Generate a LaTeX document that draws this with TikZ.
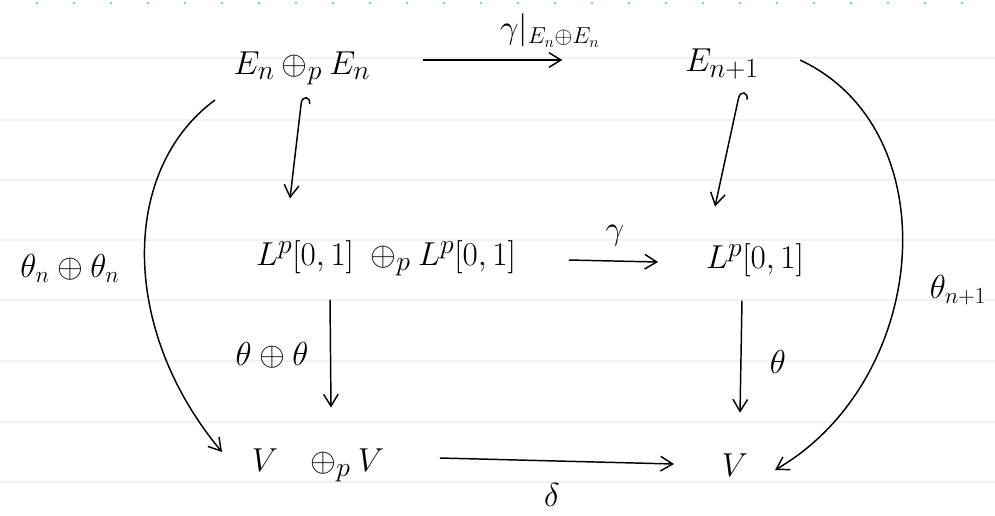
\documentclass[tikz,border=0pt]{standalone}
\usetikzlibrary{arrows.meta,calc}
\begin{document}
\begin{tikzpicture}[x=0.75pt,y=-0.75pt,
  obj/.style={inner sep=2pt,font=\fontsize{31}{35}\selectfont},
  lab/.style={inner sep=2pt,font=\fontsize{26}{30}\selectfont},
  arr/.style={-{Straight Barb[length=9pt,width=11pt]},line width=1.1pt},
  harr/.style={{Hooks[right,length=5pt,width=14pt]}-{Straight Barb[length=9pt,width=11pt]},line width=1.1pt},
  rule/.style={draw=black!5,line width=0.8pt}]
\useasboundingbox (0,0) rectangle (995,515);
\fill[white] (0,0) rectangle (995,515);
\foreach \yy in {58,120,180,240,300,361,422,482} \draw[rule] (0,\yy) -- (995,\yy);
\foreach \xx in {37,74,...,995} \fill[cyan!60] (\xx,3) circle (1.4);
\node[obj] (A) at (302,68) {$E_n\oplus_p E_n$};
\node[obj] (B) at (722,64) {$E_{n+1}$};
\node[obj] (C) at (386,258) {$L^p[0,1]\;\oplus_p L^p[0,1]$};
\node[obj] (D) at (755,260) {$L^p[0,1]$};
\node[obj] (E) at (318,465) {$V\ \ \oplus_p V$};
\node[obj] (F) at (735,465) {$V$};
\coordinate (a1) at (215,100);
\coordinate (a2) at (222,452);
\coordinate (b1) at (800,60);
\coordinate (b2) at (775,470);
\draw[arr] ($(A.east)+(50,-8)$) -- ($(B.west)+(-120,-4)$);
\node[lab,anchor=south] (g1) at (550,50) {$\gamma|_{E_n\oplus E_n}$};
\draw[harr] ($(A.south)+(0,9)$) -- ($(C.north)+(-96,-39)$);
\draw[harr] ($(B.south)+(18,9)$) -- ($(D.north)+(-40,-34)$);
\draw[arr] ($(C.east)+(50,2)$) -- ($(D.west)+(-45,2)$);
\node[lab] (g2) at (615,236) {$\gamma$};
\draw[arr] ($(C.south)+(-56,21)$) -- ($(E.north)+(13,-38)$);
\node[lab] (tt) at (272,355) {$\theta\oplus\theta$};
\draw[arr] ($(D.south)+(-13,21)$) -- ($(F.north)+(5,-38)$);
\node[lab] (t) at (778,362) {$\theta$};
\draw[arr] ($(E.east)+(53,-7)$) -- ($(F.west)+(-45,-1)$);
\node[lab] (d) at (552,495) {$\delta$};
\draw[arr] (a1) .. controls (120,170) and (120,330) .. (a2);
\node[lab] (tn) at (70,268) {$\theta_n\oplus\theta_n$};
\draw[arr] (b1) .. controls (950,130) and (930,380) .. (b2);
\node[lab] (tn1) at (958,290) {$\theta_{n+1}$};
\end{tikzpicture}
\end{document}
